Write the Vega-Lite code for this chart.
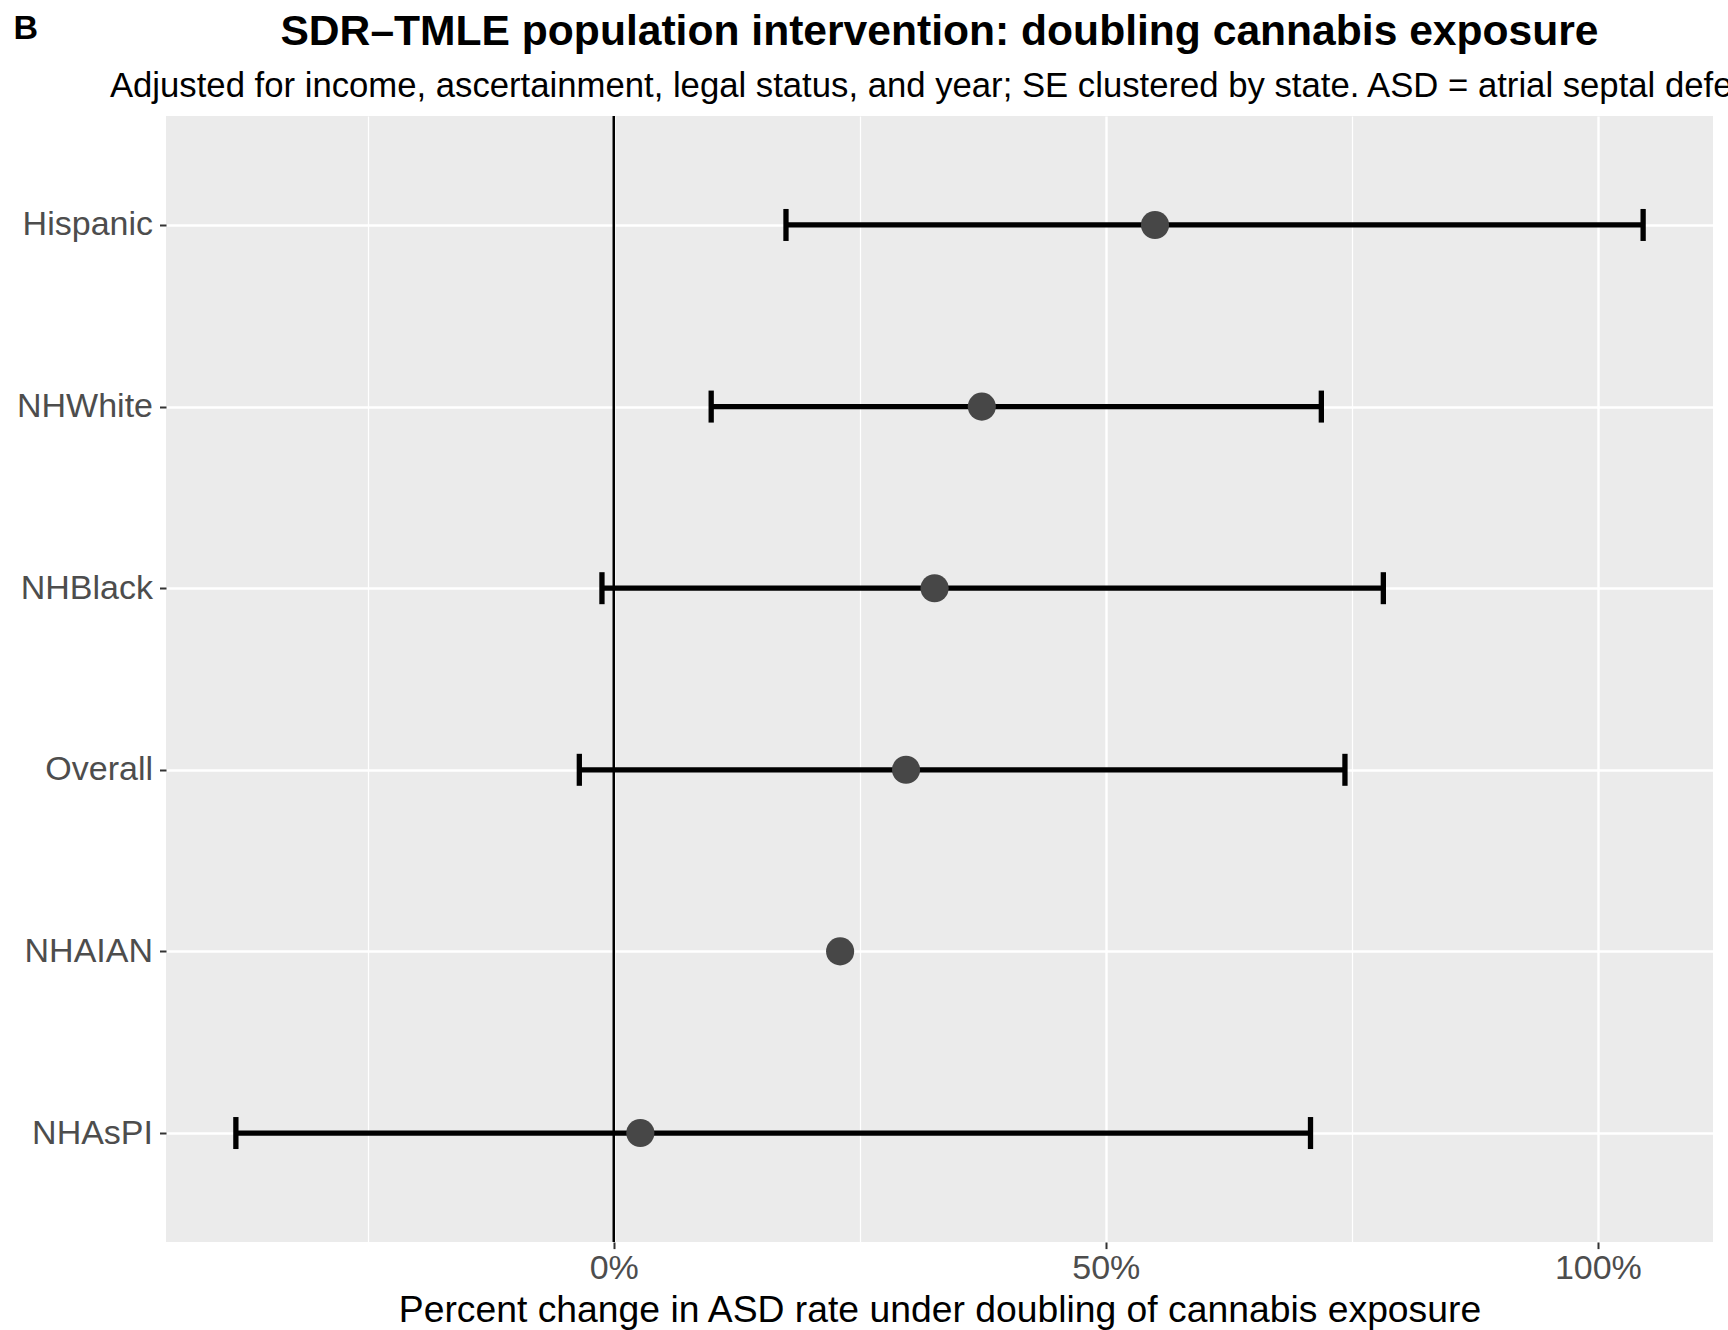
{
  "$schema": "https://vega.github.io/schema/vega-lite/v6.json",
  "width": 1547,
  "height": 1126,
  "autosize": {"type": "none"},
  "padding": {"left": 166, "top": 116, "right": 15, "bottom": 88},
  "background": "white",
  "title": {
    "text": "SDR–TMLE population intervention: doubling cannabis exposure",
    "subtitle": "Adjusted for income, ascertainment, legal status, and year; SE clustered by state. ASD = atrial septal defect.",
    "anchor": "middle",
    "frame": "group",
    "font": "Liberation Sans",
    "fontSize": 42.6,
    "fontWeight": "bold",
    "color": "black",
    "subtitleFont": "Liberation Sans",
    "subtitleFontSize": 34.7,
    "subtitleColor": "black",
    "subtitlePadding": 17,
    "offset": -93
  },
  "config": {
    "view": {"fill": "#EBEBEB", "stroke": null},
    "font": "Liberation Sans"
  },
  "datasets": {
    "est": [
      {"group": "Hispanic", "pct": 55.0, "lo": 17.5, "hi": 104.6},
      {"group": "NHWhite", "pct": 37.4, "lo": 9.9, "hi": 71.9},
      {"group": "NHBlack", "pct": 32.6, "lo": -1.2, "hi": 78.2},
      {"group": "Overall", "pct": 29.7, "lo": -3.5, "hi": 74.3},
      {"group": "NHAIAN", "pct": 23.0, "lo": null, "hi": null},
      {"group": "NHAsPI", "pct": 2.7, "lo": -38.4, "hi": 70.8}
    ],
    "ref": [{"ref": 0}]
  },
  "layer": [
    {
      "data": {"name": "est"},
      "mark": {"type": "circle", "opacity": 0},
      "encoding": {
        "x": {
          "field": "pct", "type": "quantitative",
          "scale": {"domain": [-45.5, 111.7], "nice": false, "zero": false},
          "axis": {
            "values": [-25, 0, 25, 50, 75, 100],
            "labelExpr": "datum.value % 50 === 0 ? datum.value + '%' : ''",
            "title": "Percent change in ASD rate under doubling of cannabis exposure",
            "titleFont": "Liberation Sans",
            "titleFontSize": 37.3,
            "titleFontWeight": "normal",
            "titleColor": "black",
            "titlePadding": 7,
            "labelFont": "Liberation Sans",
            "labelFontSize": 34,
            "labelColor": "#4D4D4D",
            "labelPadding": 3,
            "domain": false,
            "tickColor": "#333333",
            "tickSize": 6.6,
            "tickWidth": 2,
            "tickOpacity": {"condition": {"test": "datum.value % 50 === 0", "value": 1}, "value": 0},
            "grid": true,
            "gridColor": "white",
            "gridWidth": {"condition": {"test": "datum.value % 50 === 0", "value": 2.4}, "value": 1.2}
          }
        },
        "y": {
          "field": "group", "type": "nominal",
          "scale": {"type": "point", "padding": 0.6, "domain": ["Hispanic", "NHWhite", "NHBlack", "Overall", "NHAIAN", "NHAsPI"]},
          "axis": {
            "title": "B",
            "titleAngle": 0,
            "titleFont": "Liberation Sans",
            "titleFontSize": 34,
            "titleFontWeight": "bold",
            "titleColor": "black",
            "titleAlign": "left",
            "titleBaseline": "alphabetic",
            "titleX": -153,
            "titleY": -78,
            "labelFont": "Liberation Sans",
            "labelFontSize": 34,
            "labelColor": "#4D4D4D",
            "labelPadding": 7,
            "domain": false,
            "tickColor": "#333333",
            "tickSize": 6.5,
            "tickWidth": 2,
            "grid": true,
            "gridColor": "white",
            "gridWidth": 2.4
          }
        }
      }
    },
    {
      "data": {"name": "ref"},
      "mark": {"type": "rule", "color": "black", "strokeWidth": 2.5},
      "encoding": {
        "x": {"field": "ref", "type": "quantitative", "scale": {"domain": [-45.5, 111.7], "nice": false, "zero": false}}
      }
    },
    {
      "data": {"name": "est"},
      "mark": {"type": "rule", "color": "black", "strokeWidth": 5.3},
      "encoding": {
        "x": {"field": "lo", "type": "quantitative", "scale": {"domain": [-45.5, 111.7], "nice": false, "zero": false}},
        "x2": {"field": "hi"},
        "y": {"field": "group", "type": "nominal"}
      }
    },
    {
      "data": {"name": "est"},
      "mark": {"type": "tick", "color": "black", "orient": "vertical", "size": 32, "thickness": 5.3, "opacity": 1},
      "encoding": {
        "x": {"field": "lo", "type": "quantitative", "scale": {"domain": [-45.5, 111.7], "nice": false, "zero": false}},
        "y": {"field": "group", "type": "nominal"}
      }
    },
    {
      "data": {"name": "est"},
      "mark": {"type": "tick", "color": "black", "orient": "vertical", "size": 32, "thickness": 5.3, "opacity": 1},
      "encoding": {
        "x": {"field": "hi", "type": "quantitative", "scale": {"domain": [-45.5, 111.7], "nice": false, "zero": false}},
        "y": {"field": "group", "type": "nominal"}
      }
    },
    {
      "data": {"name": "est"},
      "mark": {"type": "circle", "color": "#474747", "opacity": 1, "size": 790},
      "encoding": {
        "x": {"field": "pct", "type": "quantitative", "scale": {"domain": [-45.5, 111.7], "nice": false, "zero": false}},
        "y": {"field": "group", "type": "nominal"}
      }
    }
  ]
}
